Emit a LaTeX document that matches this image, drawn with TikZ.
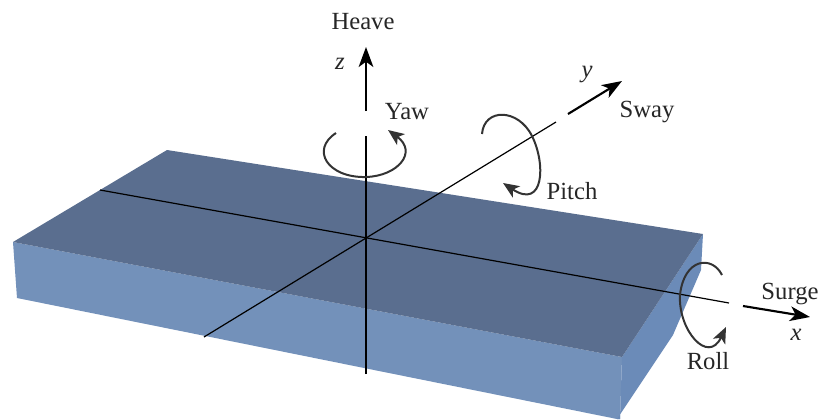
\documentclass[tikz,border=0pt]{standalone}
\usepackage{fontspec}
\setmainfont{Liberation Serif}
\usetikzlibrary{arrows.meta}
\definecolor{platetop}{HTML}{5A6E8F}
\definecolor{plateside}{HTML}{7391BA}
\definecolor{plateend}{HTML}{6B8BB8}
\tikzset{
  axisline/.style={line width=0.9pt, black},
  axisarrow/.style={line width=1.6pt, black, -{Stealth[length=15pt,width=11pt,inset=4pt]}},
  turnarrow/.style={line width=1.5pt, black!80, -{Stealth[length=12pt,width=10pt,inset=3pt]}},
  lbl/.style={font=\fontsize{18.5pt}{20pt}\selectfont, inner sep=0pt, text=black!85},
}
\begin{document}
\begin{tikzpicture}[x=0.75pt,y=-0.75pt]
  \useasboundingbox (0,0) rectangle (819,419);
  % plate
  \coordinate (backl) at (167,150);
  \coordinate (left) at (13,242);
  \coordinate (right) at (703,234);
  \coordinate (front) at (622,357);
  \coordinate (origin) at (366,238);
  \fill[plateside] (left) -- (front) -- (620,419) -- (617,419) -- (17,298) -- cycle;
  \fill[plateend] (right) -- (front) -- (620,419) -- (617,419) -- (673,335) -- (701,270) -- cycle;
  \fill[platetop] (backl) -- (right) -- (front) -- (left) -- cycle;
  % axes
  \coordinate (xback) at (100,190);
  \coordinate (xend) at (729,303);
  \coordinate (yback) at (204,337);
  \coordinate (yend) at (556,122);
  \coordinate (zback) at (366,374);
  \coordinate (zend) at (366,136);
  \draw[axisline] (xback) -- (xend);
  \draw[axisline] (yback) -- (yend);
  \draw[axisline] (zback) -- (zend);
  \coordinate (xa) at (743,306);
  \coordinate (xb) at (810,317);
  \coordinate (ya) at (568,114);
  \coordinate (yb) at (622,81);
  \coordinate (za) at (366,111);
  \coordinate (zb) at (366,47);
  \draw[axisarrow] (xa) -- (xb);
  \draw[axisarrow] (ya) -- (yb);
  \draw[axisarrow] (za) -- (zb);
  % rotations
  \coordinate (yawa) at (336,133);
  \coordinate (yawb) at (388,130);
  \draw[turnarrow] (yawa) .. controls (310,150) and (328,178) .. (366,177)
    .. controls (398,176) and (418,152) .. (388,130);
  \coordinate (pitcha) at (482,134);
  \coordinate (pitchb) at (503,183);
  \draw[turnarrow] (pitcha) .. controls (484,108) and (518,108) .. (532,136)
    .. controls (546,164) and (544,210) .. (503,183);
  \coordinate (rolla) at (722,275);
  \coordinate (rollb) at (726,327);
  \draw[turnarrow] (rolla) .. controls (712,255) and (684,258) .. (680,295)
    .. controls (678,330) and (708,365) .. (726,327);
  % labels
  \node[lbl] (heave) at (363,22) {Heave};
  \node[lbl] (zlab) at (340,64) {\textit{z}};
  \node[lbl] (yaw) at (407,112) {Yaw};
  \node[lbl] (ylab) at (587,74) {\textit{y}};
  \node[lbl] (sway) at (647,112) {Sway};
  \node[lbl] (pitch) at (572,191) {Pitch};
  \node[lbl] (surge) at (790,294) {Surge};
  \node[lbl] (xlab) at (796,335) {\textit{x}};
  \node[lbl] (roll) at (708,361) {Roll};
\end{tikzpicture}
\end{document}
